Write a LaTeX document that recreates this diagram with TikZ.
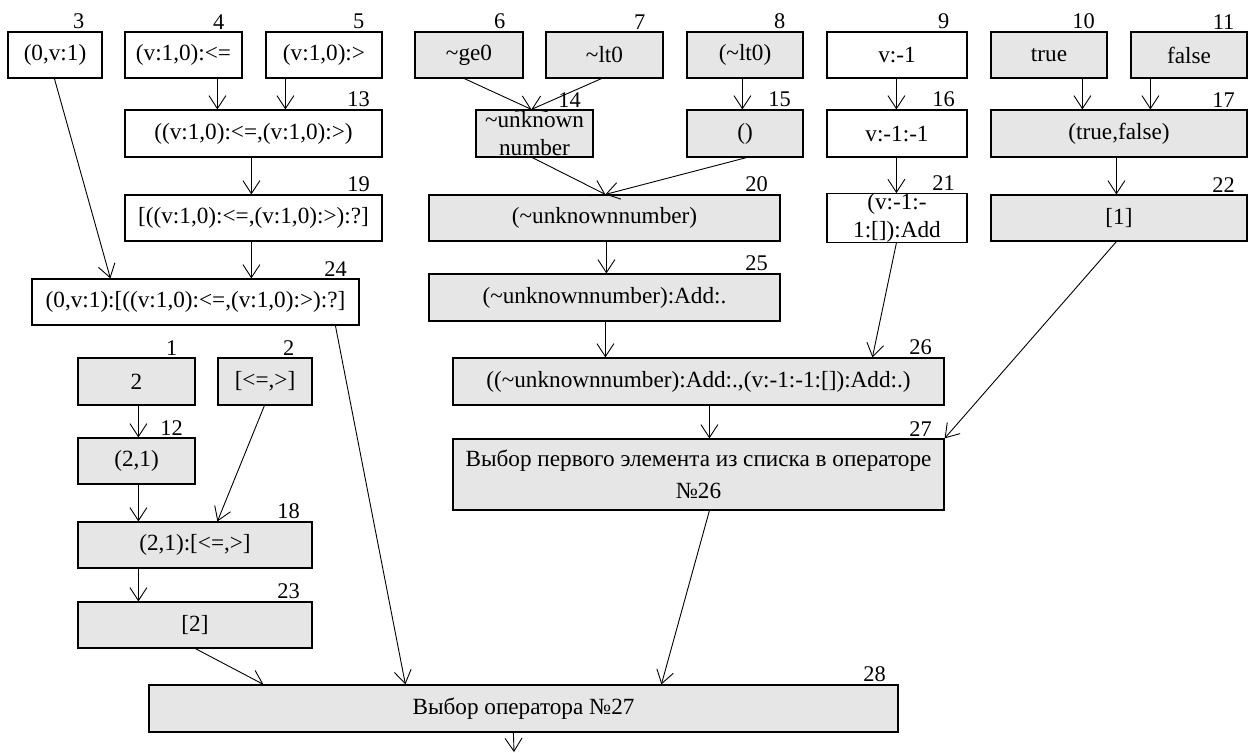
\documentclass[tikz,border=0pt]{standalone}
\usepackage{fontspec}
\setmainfont{Liberation Serif}
\usetikzlibrary{arrows.meta}
\definecolor{boxgray}{RGB}{230,230,230}
\begin{document}
\begin{tikzpicture}[x=0.5pt,y=-0.5pt,
  box/.style={draw, line width=0.6pt, inner sep=0pt, align=center,
    font=\fontsize{11.6}{13.8}\selectfont, minimum height=23pt},
  wb/.style={box, fill=white},
  gb/.style={box, fill=boxgray},
  lab/.style={anchor=south, inner sep=0pt, xshift=-12pt, yshift=1pt,
    font=\fontsize{11.2}{12}\selectfont},
  num/.style={label={[lab]north east:#1}},
  arr/.style={-{Straight Barb[length=6.5pt,width=8.5pt]}, line width=0.45pt}]
\useasboundingbox[fill=white] (0,0) rectangle (1254,752);

% row 1
\node[wb,num=3,minimum width=47pt]   (n3)  at (55,55)    {(0,v:1)};
\node[wb,num=4,minimum width=58.5pt] (n4)  at (183.5,55) {(v:1,0):<=};
\node[wb,num=5,minimum width=58pt]   (n5)  at (324,55)   {(v:1,0):>};
\node[gb,num=6,minimum width=54pt]   (n6)  at (469,55)   {\textasciitilde ge0};
\node[gb,num=7,minimum width=58.5pt] (n7)  at (604.5,55) {\textasciitilde lt0};
\node[gb,num=8,minimum width=58pt]   (n8)  at (745,55)   {(\textasciitilde lt0)};
\node[wb,num=9,minimum width=70pt]   (n9)  at (897,55)   {v:-1};
\node[gb,num=10,minimum width=58pt]  (n10) at (1049,55)  {true};
\node[gb,num=11,minimum width=58pt]  (n11) at (1189,55)  {false};

% row 2
\node[wb,num=13,minimum width=128.5pt,minimum height=23.5pt] (n13) at (253.5,133.5) {((v:1,0):<=,(v:1,0):>)};
\node[gb,num=14,minimum width=58.5pt,minimum height=23.5pt]  (n14) at (534.5,133.5) {\textasciitilde unknown\\number};
\node[gb,num=15,minimum width=58pt,minimum height=23.5pt]    (n15) at (745,133.5)   {()};
\node[wb,num=16,minimum width=70pt,minimum height=23.5pt]    (n16) at (897,133.5)   {v:-1:-1};
\node[gb,num=17,minimum width=128pt,minimum height=23.5pt]   (n17) at (1119,133.5)  {(true,false)};

% row 3
\node[wb,num=19,minimum width=128.5pt] (n19) at (253.5,218) {[((v:1,0):<=,(v:1,0):>):?]};
\node[gb,num=20,minimum width=175.5pt] (n20) at (604.5,218) {(\textasciitilde unknownnumber)};
\node[wb,num=21,minimum width=70pt]    (n21) at (897,218)   {(v:-1:-\\1:[]):Add};
\node[gb,num=22,minimum width=128pt]   (n22) at (1119,218)  {[1]};

% row 4
\node[wb,num=24,minimum width=163.5pt] (n24) at (195.5,302)   {(0,v:1):[((v:1,0):<=,(v:1,0):>):?]};
\node[gb,num=25,minimum width=175.5pt,minimum height=23.5pt] (n25) at (604.5,297.5) {(\textasciitilde unknownnumber):Add:.};

% lower left
\node[gb,num=1,minimum width=58.5pt,minimum height=23.5pt] (n1)  at (136.5,381.5) {2};
\node[gb,num=2,minimum width=47pt,minimum height=23.5pt]   (n2)  at (265,381.5)   {[<=,>]};
\node[gb,num=12,minimum width=58.5pt]  (n12) at (136.5,461) {(2,1)};
\node[gb,num=18,minimum width=117pt]   (n18) at (195,545)   {(2,1):[<=,>]};
\node[gb,num=23,minimum width=117pt]   (n23) at (195,625)   {[2]};

% middle
\node[gb,num=26,minimum width=245.5pt,minimum height=23.5pt] (n26) at (698.5,381.5) {((\textasciitilde unknownnumber):Add:.,(v:-1:-1:[]):Add:.)};
\node[gb,num=27,minimum width=245.5pt,minimum height=35.5pt,font=\fontsize{11.6}{16}\selectfont] (n27) at (698.5,474.5) {Выбор первого элемента из списка в операторе\\№26};

% bottom
\node[gb,num=28,minimum width=374.5pt,minimum height=23.5pt] (n28) at (523.5,708.5) {Выбор оператора №27};
\coordinate (out) at (514,752);

% connectors
\draw[arr] ([xshift=23.5pt]n3.south west) -- ([xshift=39.5pt]n24.north west);
\draw[arr] ([xshift=46.5pt]n4.south west) -- ([xshift=46.5pt]n13.north west);
\draw[arr] ([xshift=10pt]n5.south west) -- ([xshift=80.5pt]n13.north west);
\draw[arr] ([xshift=63.5pt]n13.south west) -- ([xshift=63.5pt]n19.north west);
\draw[arr] ([xshift=63.5pt]n19.south west) -- ([xshift=110pt]n24.north west);
\draw[arr] ([xshift=25pt]n6.south west) -- ([xshift=28pt]n14.north west);
\draw[arr] ([xshift=28pt]n7.south west) -- ([xshift=28pt]n14.north west);
\draw[arr] ([xshift=28pt]n8.south west) -- ([xshift=28pt]n15.north west);
\draw[arr] ([xshift=28.5pt]n14.south west) -- ([xshift=88.5pt]n20.north west);
\draw[arr] ([xshift=30pt]n15.south west) -- ([xshift=88.5pt]n20.north west);
\draw[arr] ([xshift=35pt]n9.south west) -- ([xshift=35pt]n16.north west);
\draw[arr] ([xshift=35pt]n16.south west) -- ([xshift=35pt]n21.north west);
\draw[arr] ([xshift=46pt]n10.south west) -- ([xshift=46pt]n17.north west);
\draw[arr] ([xshift=10pt]n11.south west) -- ([xshift=80pt]n17.north west);
\draw[arr] ([xshift=63pt]n17.south west) -- ([xshift=63pt]n22.north west);
\draw[arr] ([xshift=89pt]n20.south west) -- ([xshift=89pt]n25.north west);
\draw[arr] ([xshift=88.5pt]n25.south west) -- ([xshift=76.5pt]n26.north west);
\draw[arr] ([xshift=35pt]n21.south west) -- ([xshift=210pt]n26.north west);
\draw[arr] ([xshift=128.5pt]n26.south west) -- ([xshift=128.5pt]n27.north west);
\draw[arr] ([xshift=63pt]n22.south west) -- (n27.north east);
\draw[arr] ([xshift=30.5pt]n1.south west) -- ([xshift=30.5pt]n12.north west);
\draw[arr] ([xshift=30.5pt]n12.south west) -- ([xshift=30.5pt]n18.north west);
\draw[arr] ([xshift=23.5pt]n2.south west) -- ([xshift=70pt]n18.north west);
\draw[arr] ([xshift=30.5pt]n18.south west) -- ([xshift=30.5pt]n23.north west);
\draw[arr] ([xshift=59pt]n23.south west) -- ([xshift=57.5pt]n28.north west);
\draw[arr] ([xshift=152pt]n24.south west) -- ([xshift=128.5pt]n28.north west);
\draw[arr] ([xshift=128.5pt]n27.south west) -- ([xshift=256.5pt]n28.north west);
\draw[arr] ([xshift=182.5pt]n28.south west) -- (out);
\end{tikzpicture}
\end{document}
